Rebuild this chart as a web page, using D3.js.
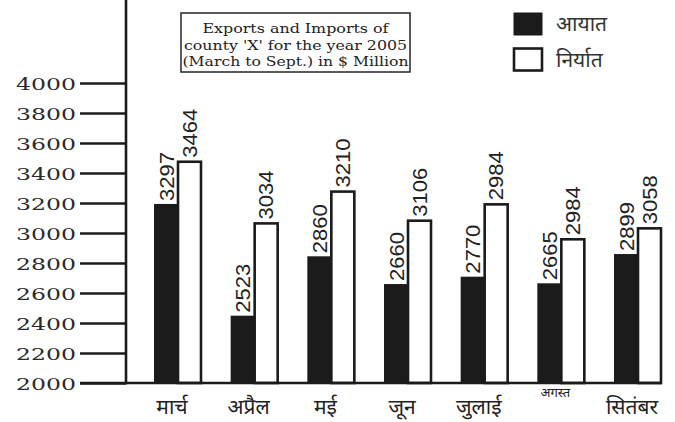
<!DOCTYPE html>
<html><head><meta charset="utf-8">
<script src="https://cdn.jsdelivr.net/npm/d3@7"></script>
<style>
html,body{margin:0;padding:0;background:#fff;}
svg{display:block;}
</style></head>
<body>
<svg id="chart" width="675" height="422"></svg>
<script>
// Data
const months = ["मार्च","अप्रैल","मई","जून","जुलाई","अगस्त","सितंबर"];
// bar heights as drawn in the reference
const importsValues = [3187, 2442, 2838, 2653, 2702, 2658, 2853];
const exportsValues = [3475, 3064, 3276, 3082, 3191, 2958, 3031];
// printed value labels
const importsLabels = ["3297","2523","2860","2660","2770","2665","2899"];
const exportsLabels = ["3464","3034","3210","3106","2984","2984","3058"];
const yTickValues = [2000,2200,2400,2600,2800,3000,3200,3400,3600,3800,4000];
const yTickLabels = ["2000","2200","2400","2600","2800","3000","3200","3400","3600","3800","4000"];
const seriesNames = ["आयात","निर्यात"];
const titleLines = ["Exports and Imports of","county 'X' for the year 2005","(March to Sept.) in $ Million"];

const ink = "#1b1b1b";
const svg = d3.select("#chart");

const y = d3.scaleLinear().domain([2000,4000]).range([383,83]);
const x = d3.scaleBand().domain(months).range([155,661]).paddingInner(0.4).paddingOuter(0);
const xs = d3.scaleBand().domain(["imp","exp"]).range([0,x.bandwidth()]);

// y axis: ticks extend to the left of the axis line
const yAxis = d3.axisLeft(y).tickValues(yTickValues).tickSize(46)
  .tickFormat((d,i)=>yTickLabels[i]).tickPadding(4);
const gy = svg.append("g").attr("transform","translate(126,0)").call(yAxis);
gy.select(".domain").remove();
gy.selectAll(".tick line").attr("stroke",ink).attr("stroke-width",2.6);
gy.selectAll(".tick text").attr("fill","#2a2a2a")
  .style("font-family","'DejaVu Serif', 'Liberation Serif', serif")
  .style("font-size","17px")
  .attr("textLength",60).attr("lengthAdjust","spacingAndGlyphs")
  .attr("dy","0.36em");

// vertical axis line
svg.append("line").attr("x1",126).attr("x2",126).attr("y1",0).attr("y2",y(2000)+1.3)
  .attr("stroke",ink).attr("stroke-width",2.6);

// bars
const groups = svg.append("g").selectAll("g").data(months).join("g")
  .attr("transform",d=>`translate(${x(d)},0)`);

groups.append("rect")
  .attr("x",xs("imp")).attr("width",xs.bandwidth())
  .attr("y",(d,i)=>y(importsValues[i])).attr("height",(d,i)=>y(2000)-y(importsValues[i]))
  .attr("fill",ink).attr("stroke",ink).attr("stroke-width",2);

groups.append("rect")
  .attr("x",xs("exp")).attr("width",xs.bandwidth())
  .attr("y",(d,i)=>y(exportsValues[i])).attr("height",(d,i)=>y(2000)-y(exportsValues[i]))
  .attr("fill","#fff").attr("stroke",ink).attr("stroke-width",2.6);

const labelStyle = sel => sel
  .attr("text-anchor","start").attr("dy","0.36em")
  .attr("fill","#222")
  .style("font-family","'Liberation Sans', Arial, sans-serif")
  .style("font-size","20px")
  .attr("textLength",49).attr("lengthAdjust","spacingAndGlyphs");

groups.append("text")
  .attr("transform",(d,i)=>`translate(${xs("imp")+xs.bandwidth()/2},${y(importsValues[i])-4}) rotate(-90)`)
  .text((d,i)=>importsLabels[i]).call(labelStyle);
groups.append("text")
  .attr("transform",(d,i)=>`translate(${xs("exp")+xs.bandwidth()/2},${y(exportsValues[i])-4}) rotate(-90)`)
  .text((d,i)=>exportsLabels[i]).call(labelStyle);

// baseline
svg.append("line").attr("x1",80).attr("x2",x.range()[1]+1).attr("y1",y(2000)).attr("y2",y(2000))
  .attr("stroke",ink).attr("stroke-width",2.6);

// month labels
svg.append("g").selectAll("text").data(months).join("text")
  .attr("x",d=>x(d)+x.bandwidth()/2-6)
  .attr("y",(d,i)=> i===5 ? 397 : 414)
  .attr("text-anchor","middle")
  .attr("fill","#222")
  .style("font-family","'Noto Sans', 'Noto Sans Devanagari', sans-serif")
  .style("font-size",(d,i)=> i===5 ? "13px" : "21px")
  .text(d=>d);

// title box
svg.append("rect").attr("x",181).attr("y",13).attr("width",229).attr("height",59)
  .attr("fill","#fff").attr("stroke","#333").attr("stroke-width",1.6);
const titleLens = [186,223,226];
svg.append("g").selectAll("text").data(titleLines).join("text")
  .attr("x",295.5).attr("y",(d,i)=>33+i*16.5)
  .attr("text-anchor","middle").attr("fill","#222")
  .style("font-family","'DejaVu Serif', 'Liberation Serif', serif")
  .style("font-size","13.5px")
  .attr("textLength",(d,i)=>titleLens[i]).attr("lengthAdjust","spacingAndGlyphs")
  .text(d=>d);

// legend
const legend = svg.append("g").selectAll("g").data(seriesNames).join("g")
  .attr("transform",(d,i)=>`translate(514,${13+i*35.5})`);
legend.append("rect").attr("width",28).attr("height",22)
  .attr("fill",(d,i)=> i===0 ? ink : "#fff")
  .attr("stroke",ink).attr("stroke-width",(d,i)=> i===0 ? 1 : 2.6);
legend.append("text").attr("x",42).attr("y",18)
  .attr("fill","#333")
  .style("font-family","'Noto Sans', 'Noto Sans Devanagari', sans-serif")
  .style("font-size","21px")
  .text(d=>d);
</script>
</body></html>
